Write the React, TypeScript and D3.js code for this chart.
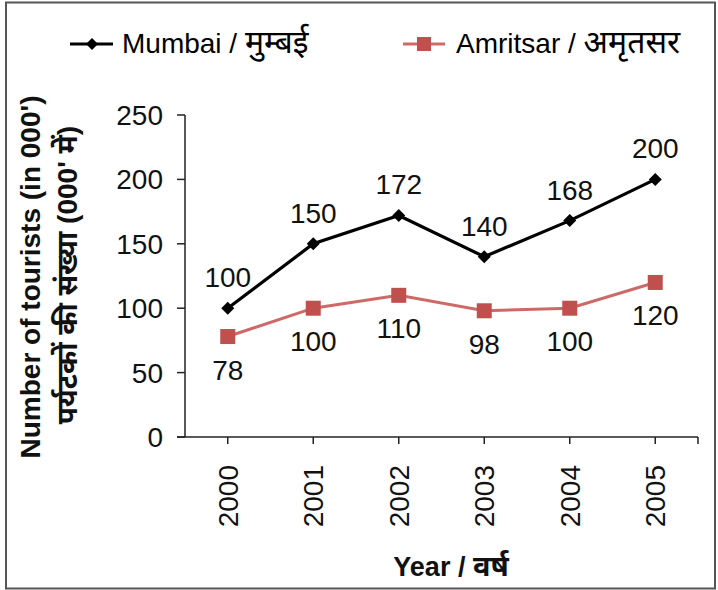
import React from "react";
import * as d3 from "d3";

const years = ["2000", "2001", "2002", "2003", "2004", "2005"];
const mumbai = [100, 150, 172, 140, 168, 200];
const amritsar = [78, 100, 110, 98, 100, 120];
const yTicks = [0, 50, 100, 150, 200, 250];
const mumbaiLatin = "Mumbai / ";
const mumbaiDeva = "मुम्बई";
const amritsarLatin = "Amritsar / ";
const amritsarDeva = "अमृतसर";
const yTitle1 = "Number of tourists  (in 000')";
const yTitle2 = "पर्यटकों की संख्या (000' में)";
const xTitleLatin = "Year / ";
const xTitleDeva = "वर्ष";

const W = 718;
const H = 590;
const FONT = "'Liberation Sans', Arial, 'Noto Sans', sans-serif";
const RED = "#c0504d";
const RED_LINE = "#cd6a68";

export default function App() {
  const x = d3.scalePoint<string>().domain(years).range([185, 698]).padding(0.5);
  const y = d3.scaleLinear().domain([0, 250]).range([437, 115]);
  const x1 = x.range()[1];
  const line = d3
    .line<number>()
    .x((_, i) => x(years[i]) as number)
    .y((d) => y(d));
  const diamond = (cx: number, cy: number, r: number) =>
    `M${cx},${cy - r}L${cx + r},${cy}L${cx},${cy + r}L${cx - r},${cy}Z`;

  return (
    <div style={{ position: "absolute", left: 0, top: 0 }}>
      <svg width={W} height={H} style={{ display: "block", fontFamily: FONT }}>
        <rect x={0} y={0} width={W} height={H} fill="#fff" />
        <rect x={6} y={2.5} width={709} height={586} fill="none" stroke="#555" strokeWidth={2} />

        {/* legend */}
        <g>
          <line x1={70} x2={113} y1={44} y2={44} stroke="#000" strokeWidth={3} />
          <path d={diamond(92, 44, 6)} fill="#000" />
          <text x={122} y={53} fontSize={28} fill="#000">
            {mumbaiLatin}
            <tspan fontSize={32}>{mumbaiDeva}</tspan>
          </text>
          <line x1={403} x2={445} y1={44} y2={44} stroke={RED_LINE} strokeWidth={3} />
          <rect x={417} y={37} width={14} height={14} fill={RED} />
          <text x={456} y={53} fontSize={28} fill="#000">
            {amritsarLatin}
            <tspan fontSize={32}>{amritsarDeva}</tspan>
          </text>
        </g>

        {/* y axis */}
        <line x1={185} x2={185} y1={y(250)} y2={y(0)} stroke="#222" strokeWidth={1.5} />
        {yTicks.map((t) => (
          <g key={t}>
            <line x1={177} x2={185} y1={y(t)} y2={y(t)} stroke="#222" strokeWidth={1.5} />
            <text x={163} y={y(t)} dy="0.36em" textAnchor="end" fontSize={28} fill="#111">
              {t}
            </text>
          </g>
        ))}

        {/* x axis */}
        <line x1={177} x2={x1} y1={y(0)} y2={y(0)} stroke="#222" strokeWidth={1.5} />
        {years.map((yr) => (
          <g key={yr}>
            <line x1={x(yr)} x2={x(yr)} y1={y(0)} y2={y(0) + 7} stroke="#222" strokeWidth={1.5} />
            <text
              transform={`translate(${x(yr)},465) rotate(-90)`}
              dy="0.36em"
              textAnchor="end"
              fontSize={28}
              fill="#111"
            >
              {yr}
            </text>
          </g>
        ))}
        <line x1={x1} x2={x1} y1={y(0)} y2={y(0) + 7} stroke="#222" strokeWidth={1.5} />

        {/* titles */}
        <text x={451} y={576} textAnchor="middle" fontSize={27} fontWeight="bold" fill="#111">
          {xTitleLatin}
          <tspan fontSize={29}>{xTitleDeva}</tspan>
        </text>
        <text
          transform="translate(30,277) rotate(-90)"
          dy="0.36em"
          textAnchor="middle"
          fontSize={28}
          fontWeight="bold"
          fill="#111"
        >
          {yTitle1}
        </text>
        <text
          transform="translate(67,275) rotate(-90)"
          dy="0.36em"
          textAnchor="middle"
          fontSize={28}
          fontWeight="bold"
          fill="#111"
        >
          {yTitle2}
        </text>

        {/* series */}
        <path d={line(amritsar) || ""} fill="none" stroke={RED_LINE} strokeWidth={3} />
        <path d={line(mumbai) || ""} fill="none" stroke="#000" strokeWidth={3.2} />
        {amritsar.map((v, i) => (
          <g key={"a" + i}>
            <rect x={(x(years[i]) as number) - 7.5} y={y(v) - 7.5} width={15} height={15} fill={RED} />
            <text x={x(years[i])} y={y(v) + 43} textAnchor="middle" fontSize={28} fill="#111">
              {v}
            </text>
          </g>
        ))}
        {mumbai.map((v, i) => (
          <g key={"m" + i}>
            <path d={diamond(x(years[i]) as number, y(v), 6.5)} fill="#000" />
            <text x={x(years[i])} y={y(v) - 21} textAnchor="middle" fontSize={28} fill="#111">
              {v}
            </text>
          </g>
        ))}
      </svg>
    </div>
  );
}
